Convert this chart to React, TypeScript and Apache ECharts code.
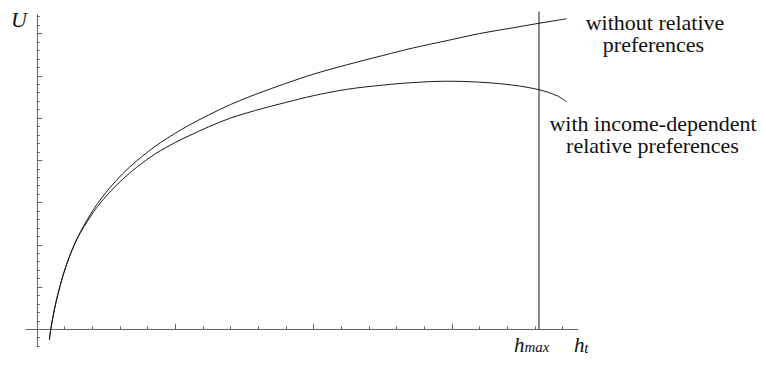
import React, { useEffect, useRef } from 'react';
import * as echarts from 'echarts';

// h_t sample points
const hValues = [0.455, 0.505, 0.64, 0.76, 0.94, 1.18, 1.48, 1.9, 2.2, 2.6, 3.1, 3.6, 4.3, 5.0, 5.5, 6.2, 7.0, 7.9, 9.0, 10.0, 11.2, 12.5, 13.6, 14.8, 16.0, 17.2, 18.15, 18.8, 19.15];
// U without relative preferences
const utilityWithout = [-1.27, 0, 2.4, 4.1, 6.3, 8.6, 10.9, 13.4, 14.9, 16.6, 18.4, 19.9, 21.7, 23.2, 24.15, 25.35, 26.6, 27.8, 29.1, 30.2, 31.3, 32.4, 33.3, 34.15, 35.0, 35.68, 36.22, 36.57, 36.76];
// U with income-dependent relative preferences
const utilityWith = [-1.27, 0, 2.4, 4.1, 6.3, 8.6, 10.85, 13.15, 14.55, 16.1, 17.75, 19.15, 20.8, 22.1, 22.9, 23.95, 25.0, 25.9, 26.85, 27.65, 28.4, 28.9, 29.2, 29.36, 29.25, 28.9, 28.35, 27.65, 26.9];

const hMax = 18.15;
const hMaxLineTop = 37.6;

const xMin = -0.39;
const xMax = 19.56;
const yMin = -2.06;
const yMax = 37.2;

const xMinorTicks = [1, 2, 3, 4, 6, 7, 8, 9, 11, 12, 13, 14, 16, 17, 18, 19];
const xMajorTicks = [5, 10, 15];
const yMinorTicks = [-2, -1, 1, 2, 3, 4, 6, 7, 8, 9, 11, 12, 13, 14, 16, 17, 18, 19, 21, 22, 23, 24, 26, 27, 28, 29, 31, 32, 33, 34, 36, 37];
const yMajorTicks = [5, 10, 15, 20, 25, 30, 35];

const labelWithout = ['without relative', 'preferences'];
const labelWith = ['with income-dependent', 'relative preferences'];

const SERIF = 'Liberation Serif';
const AXIS_COLOR = '#666';
const CURVE_COLOR = '#1a1a1a';
const TEXT_COLOR = '#111';

function makeAxis(min: number, max: number, position: string, ticks: number[], len: number, onZeroIdx: number) {
  return {
    type: 'value',
    min,
    max,
    position,
    axisLine: { show: true, onZero: true, onZeroAxisIndex: onZeroIdx, lineStyle: { color: AXIS_COLOR, width: 1 } },
    axisTick: { show: true, inside: true, length: len, customValues: ticks, lineStyle: { color: AXIS_COLOR, width: 1 } },
    axisLabel: { show: false },
    splitLine: { show: false },
  };
}

function txt(text: string, x: number, y: number, size: number, italic: boolean, align: string) {
  return {
    type: 'text',
    x,
    y,
    silent: true,
    style: {
      text,
      fontFamily: SERIF,
      fontSize: size,
      fontStyle: italic ? 'italic' : 'normal',
      fill: TEXT_COLOR,
      align,
      verticalAlign: 'middle',
    },
  };
}

export default function App() {
  const ref = useRef<HTMLDivElement>(null);
  useEffect(() => {
    if (!ref.current) return;
    const chart = echarts.init(ref.current, undefined, { renderer: 'svg' });
    const lineSeries = (name: string, values: number[]) => ({
      type: 'line',
      name,
      xAxisIndex: 0,
      yAxisIndex: 0,
      data: hValues.map((h, i) => [h, values[i]]),
      showSymbol: false,
      symbol: 'none',
      smooth: 0.35,
      lineStyle: { color: CURVE_COLOR, width: 1 },
      silent: true,
    });
    const option: any = {
      animation: false,
      backgroundColor: '#ffffff',
      grid: { left: 26, right: 188, top: 15, bottom: 18.3, containLabel: false },
      xAxis: [
        makeAxis(xMin, xMax, 'bottom', xMinorTicks, 3, 0),
        makeAxis(xMin, xMax, 'bottom', xMajorTicks, 5.5, 1),
      ],
      yAxis: [
        makeAxis(yMin, yMax, 'left', yMinorTicks, 3, 0),
        makeAxis(yMin, yMax, 'left', yMajorTicks, 5.5, 1),
      ],
      series: [
        lineSeries('without relative preferences', utilityWithout),
        lineSeries('with income-dependent relative preferences', utilityWith),
        {
          type: 'line',
          name: 'hmax',
          xAxisIndex: 0,
          yAxisIndex: 0,
          data: [[hMax, 0], [hMax, hMaxLineTop]],
          showSymbol: false,
          symbol: 'none',
          clip: false,
          lineStyle: { color: CURVE_COLOR, width: 1 },
          silent: true,
        },
      ],
      graphic: [
        txt('U', 19, 19.3, 22, true, 'center'),
        txt('h', 514, 344.6, 21, true, 'left'),
        txt('max', 524.5, 346.6, 15, true, 'left'),
        txt('h', 574, 344.6, 21, true, 'left'),
        txt('t', 584.2, 347.9, 15, true, 'left'),
        txt(labelWithout[0], 655, 22.6, 22, false, 'center'),
        txt(labelWithout[1], 653.5, 44.3, 22, false, 'center'),
        txt(labelWith[0], 653, 123.6, 22, false, 'center'),
        txt(labelWith[1], 652.5, 145.9, 22, false, 'center'),
      ],
    };
    chart.setOption(option);
    return () => chart.dispose();
  }, []);
  return <div ref={ref} style={{ position: 'absolute', left: 0, top: 0, width: 766, height: 365, background: '#fff' }} />;
}
